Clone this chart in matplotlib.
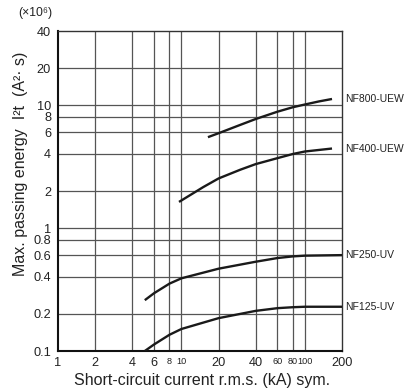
import matplotlib
matplotlib.use("Agg")
import matplotlib.pyplot as plt
from matplotlib.ticker import FixedLocator, NullLocator

plt.rcParams['font.family'] = ['Liberation Sans', 'DejaVu Sans']

# Data (x: short-circuit current kA, y: I^2t in x10^6 A^2 s)
nf800_x = [16.4, 20, 30, 40, 60, 80, 100, 130, 166]
nf800_y = [5.48, 5.9, 6.9, 7.7, 8.83, 9.6, 10.1, 10.7, 11.2]
nf400_x = [9.56, 15, 20, 30, 40, 60, 80, 100, 166]
nf400_y = [1.63, 2.15, 2.53, 2.98, 3.31, 3.7, 4.0, 4.19, 4.43]
nf250_x = [5.05, 6, 8, 10, 20, 40, 60, 80, 100, 200]
nf250_y = [0.259, 0.295, 0.353, 0.39, 0.467, 0.532, 0.57, 0.588, 0.596, 0.602]
nf125_x = [5.05, 6, 8, 10, 20, 40, 60, 80, 100, 200]
nf125_y = [0.1, 0.113, 0.1355, 0.151, 0.185, 0.212, 0.223, 0.227, 0.229, 0.229]
series_names = ["NF800-UEW", "NF400-UEW", "NF250-UV", "NF125-UV"]

x_ticks = [1, 2, 4, 6, 8, 10, 20, 40, 60, 80, 100, 200]
x_labels = ["1", "2", "4", "6", "8", "10", "20", "40", "60", "80", "100", "200"]
small_x = {"8", "10", "60", "80", "100"}
y_ticks = [0.1, 0.2, 0.4, 0.6, 0.8, 1, 2, 4, 6, 8, 10, 20, 40]
y_labels = ["0.1", "0.2", "0.4", "0.6", "0.8", "1", "2", "4", "6", "8", "10", "20", "40"]

fig = plt.figure(figsize=(4.06, 3.88), dpi=100)
ax = fig.add_axes([58/406, 1-351/388, (342-58)/406, (351-31)/388])
ax.set_xscale('log')
ax.set_yscale('log')
ax.set_xlim(1, 200)
ax.set_ylim(0.1, 40)

grid_c = '#555555'
for xv in x_ticks[1:-1]:
    ax.axvline(xv, color=grid_c, lw=0.9, zorder=1)
for yv in y_ticks[1:-1]:
    ax.axhline(yv, color=grid_c, lw=0.9, zorder=1)

for xs, ys in [(nf800_x, nf800_y), (nf400_x, nf400_y), (nf250_x, nf250_y), (nf125_x, nf125_y)]:
    ax.plot(xs, ys, color='#1a1a1a', lw=1.7, solid_capstyle='butt', zorder=3)

ax.xaxis.set_major_locator(FixedLocator(x_ticks))
ax.xaxis.set_minor_locator(NullLocator())
ax.set_xticklabels(x_labels)
ax.yaxis.set_major_locator(FixedLocator(y_ticks))
ax.yaxis.set_minor_locator(NullLocator())
ax.set_yticklabels(y_labels)
ax.tick_params(axis='both', length=0, labelsize=9.2, colors='#222222')
ax.tick_params(axis='x', pad=4)
ax.tick_params(axis='y', pad=5)
for lab in ax.get_xticklabels():
    if lab.get_text() in small_x:
        lab.set_fontsize(6.6)

for side in ['left', 'bottom']:
    ax.spines[side].set_linewidth(1.5)
    ax.spines[side].set_color('#111111')
for side in ['top', 'right']:
    ax.spines[side].set_linewidth(1.0)
    ax.spines[side].set_color('#333333')

# series labels at right end
label_pos = [(nf800_x, nf800_y), (nf400_x, nf400_y), (nf250_x, nf250_y), (nf125_x, nf125_y)]
for name, (xs, ys) in zip(series_names, label_pos):
    ax.annotate(name, xy=(1, ys[-1]), xycoords=('axes fraction', 'data'),
                xytext=(2, 0), textcoords='offset points', fontsize=7.5,
                va='center', ha='left', color='#222222', annotation_clip=False)

fig.text(202/406, 1-380/388, "Short-circuit current r.m.s. (kA) sym.",
         ha='center', va='center', fontsize=11.5, color='#222222')
fig.text(21/406, 1-164/388, "Max. passing energy  I²t  (A²· s)",
         rotation=90, ha='center', va='center', fontsize=11.5, color='#222222')
fig.text(35/406, 1-13/388, "(×10⁶)", ha='center', va='center', fontsize=8.8, color='#222222')

fig.savefig("out.png", dpi=100)
